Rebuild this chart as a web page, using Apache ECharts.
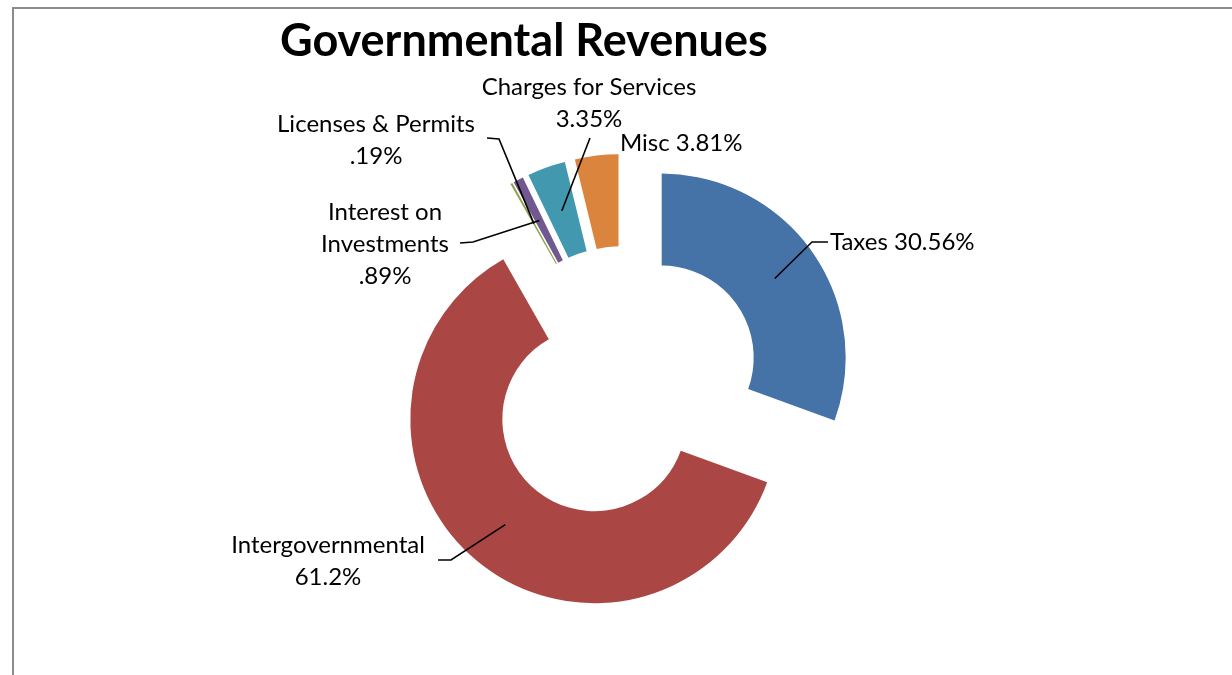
<!DOCTYPE html>
<html>
<head>
<meta charset="utf-8">
<script src="https://cdn.jsdelivr.net/npm/echarts@6/dist/echarts.min.js"></script>
<style>
  html, body { margin: 0; padding: 0; background: #fff; }
  #frame { position: absolute; left: 12px; top: 7px; width: 1240px; height: 700px;
           border-top: 2px solid #8c8c8c; border-left: 2px solid #8c8c8c; box-sizing: border-box; }
  #chart { position: absolute; left: 0; top: 0; width: 1232px; height: 675px; }
</style>
</head>
<body>
<div id="frame"></div>
<div id="chart"></div>
<script>
// ---- data ----
const categories = ['Taxes', 'Intergovernmental', 'Licenses & Permits', 'Interest on Investments', 'Charges for Services', 'Misc'];
const values = [30.56, 61.2, 0.19, 0.89, 3.35, 3.81];
const labelTexts = ['Taxes 30.56%', 'Intergovernmental\n61.2%', 'Licenses & Permits\n.19%', 'Interest on\nInvestments\n.89%', 'Charges for Services\n3.35%', 'Misc 3.81%'];
const colors = ['#4572A7', '#AA4643', '#89A54E', '#71588F', '#4198AF', '#DB843D'];

// label placement (manually placed labels, as in the original) and leader-line bends
const labelPos = [
  { x: 830, y: 242, align: 'left',   line: [[812, 242], [828, 242]] },
  { x: 328, y: 561, align: 'center', line: [[451, 560], [438, 560]] },
  { x: 376, y: 140, align: 'center', line: [[499, 139], [487, 138]] },
  { x: 385, y: 244, align: 'center', line: [[473, 242], [460, 243]] },
  { x: 589, y: 103, align: 'center', line: [[590, 138]] },
  { x: 620, y: 143, align: 'left',   line: null }
];

const FONT = 'Lato';
const OFFSET = 46;
const chart = echarts.init(document.getElementById('chart'));
chart.setOption({
  backgroundColor: 'transparent',
  animation: false,
  title: {
    text: 'Governmental Revenues',
    left: 275,
    top: 14,
    textStyle: { fontFamily: FONT, fontWeight: 'bold', fontSize: 45, color: '#000' }
  },
  series: [{
    type: 'pie',
    center: [624, 384],
    radius: [92, 184],
    startAngle: 90,
    clockwise: true,
    selectedMode: 'multiple',
    selectedOffset: OFFSET,
    emphasis: { disabled: true },
    label: { show: false },
    labelLine: { show: false },
    data: categories.map((c, i) => ({
      name: c,
      value: values[i],
      selected: true,
      itemStyle: { color: colors[i] }
    }))
  }]
});

// labels and leader lines anchored on the slices laid out by ECharts
const pieData = chart.getModel().getSeriesByIndex(0).getData();
const graphics = [];
categories.forEach((c, i) => {
  const lay = pieData.getItemLayout(i);
  const mid = (lay.startAngle + lay.endAngle) / 2;
  const rr = OFFSET + (lay.r0 + lay.r) / 2;
  const anchor = [lay.cx + Math.cos(mid) * rr, lay.cy + Math.sin(mid) * rr];
  const lp = labelPos[i];
  graphics.push({
    type: 'text',
    z: 100,
    x: lp.x, y: lp.y,
    style: {
      text: labelTexts[i],
      fontFamily: FONT, fontSize: 24, lineHeight: 32,
      fill: '#000', align: lp.align, verticalAlign: 'middle'
    }
  });
  if (lp.line) {
    graphics.push({
      type: 'polyline',
      z: 100,
      shape: { points: [anchor].concat(lp.line) },
      style: { stroke: '#000', lineWidth: 1.6, fill: null }
    });
  }
});
chart.setOption({ graphic: graphics });
</script>
</body>
</html>
